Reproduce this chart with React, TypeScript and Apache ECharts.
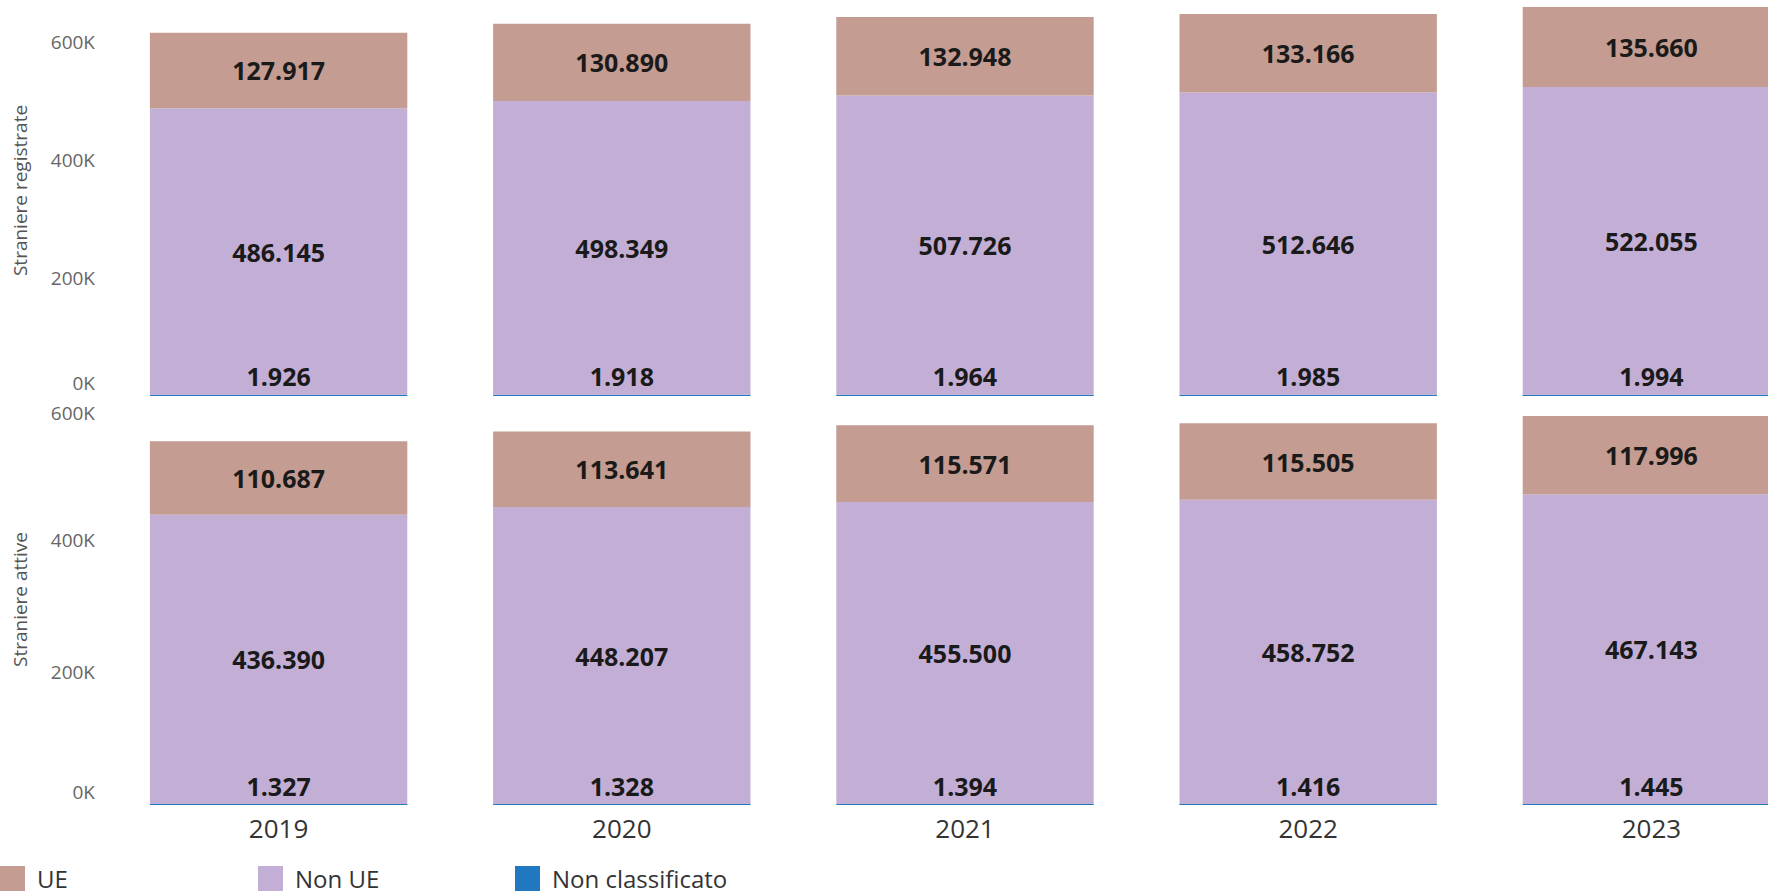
import React, { useEffect, useRef } from "react";
import * as echarts from "echarts";

const years = ["2019", "2020", "2021", "2022", "2023"];
const legendNames = ["UE", "Non UE", "Non classificato"];
const regUE = [127917, 130890, 132948, 133166, 135660];
const regNonUE = [486145, 498349, 507726, 512646, 522055];
const regNC = [1926, 1918, 1964, 1985, 1994];
const attUE = [110687, 113641, 115571, 115505, 117996];
const attNonUE = [436390, 448207, 455500, 458752, 467143];
const attNC = [1327, 1328, 1394, 1416, 1445];
const panelTitles = ["Straniere registrate", "Straniere attive"];

const COLORS: Record<string, string> = {
  UE: "#C49C91",
  "Non UE": "#C3AFD6",
  "Non classificato": "#1F78C0",
};

const FONT = "'Open Sans', 'Noto Sans', sans-serif";

const itFmt = (v: number) => String(v).replace(/\B(?=(\d{3})+(?!\d))/g, ".");

export default function App() {
  const ref = useRef<HTMLDivElement>(null);
  useEffect(() => {
    if (!ref.current) return;
    const chart = echarts.init(ref.current, null, { renderer: "svg" });
    const regMax = Math.max(...years.map((_, i) => regUE[i] + regNonUE[i] + regNC[i]));
    const attMax = Math.max(...years.map((_, i) => attUE[i] + attNonUE[i] + attNC[i]));
    const gridH = 389;
    const grids = [
      { left: 107, width: 1716, top: 7, height: gridH, outerBoundsMode: "none", containLabel: false },
      { left: 107, width: 1716, top: 416, height: gridH, outerBoundsMode: "none", containLabel: false },
    ];
    const yLabel = (showMax: boolean) => ({
      show: true,
      showMaxLabel: showMax,
      color: "#666",
      fontSize: 19,
      fontFamily: FONT,
      margin: 12,
      formatter: (v: number) => {
        if (v === 0) return "{lo|0K}";
        if (v % 200000 !== 0) return "{hi|" + Math.round(v / 200000) * 200 + "K}";
        return v / 1000 + "K";
      },
      rich: {
        lo: { fontSize: 19, color: "#666", fontFamily: FONT, padding: [0, 0, 26, 0] },
        hi: { fontSize: 19, color: "#666", fontFamily: FONT, padding: [0, 0, 6, 0] },
      },
    });
    const yAxes = [regMax, attMax].map((mx, i) => ({
      type: "value",
      gridIndex: i,
      min: 0,
      max: mx,
      interval: 200000,
      splitLine: { show: false },
      axisLine: { show: false },
      axisTick: { show: false },
      axisLabel: yLabel(i === 1),
      name: panelTitles[i],
      nameLocation: "middle",
      nameRotate: 90,
      nameGap: 78,
      nameTextStyle: { color: "#555", fontSize: 19, fontFamily: FONT, padding: [0, 0, 0, 22] },
    }));
    const xAxes = [0, 1].map((i) => ({
      type: "category",
      gridIndex: i,
      data: years,
      axisLine: { show: false },
      axisTick: { show: false },
      axisLabel: {
        show: i === 1,
        color: "#333",
        fontSize: 26,
        fontFamily: FONT,
        margin: 10,
      },
    }));
    const labelBase = {
      show: true,
      color: "#1a1a1a",
      fontWeight: "bold",
      fontSize: 25,
      fontFamily: FONT,
      formatter: (p: any) => itFmt(p.value),
    };
    const panels = [
      { nc: regNC, non: regNonUE, ue: regUE },
      { nc: attNC, non: attNonUE, ue: attUE },
    ];
    const series: any[] = [];
    panels.forEach((pd, i) => {
      series.push({
        name: "Non classificato",
        type: "bar",
        stack: "s" + i,
        xAxisIndex: i,
        yAxisIndex: i,
        data: pd.nc,
        barCategoryGap: "25%",
        itemStyle: { color: COLORS["Non classificato"] },
        label: { ...labelBase, position: "top", distance: 6 },
      });
      series.push({
        name: "Non UE",
        type: "bar",
        stack: "s" + i,
        xAxisIndex: i,
        yAxisIndex: i,
        data: pd.non,
        barCategoryGap: "25%",
        itemStyle: { color: COLORS["Non UE"] },
        label: { ...labelBase, position: "inside" },
      });
      series.push({
        name: "UE",
        type: "bar",
        stack: "s" + i,
        xAxisIndex: i,
        yAxisIndex: i,
        data: pd.ue,
        barCategoryGap: "25%",
        itemStyle: { color: COLORS["UE"] },
        label: { ...labelBase, position: "inside" },
      });
    });
    const legendLefts = [0, 258, 515];
    const legends = legendNames.map((n, k) => ({
      data: [n],
      left: legendLefts[k],
      top: 866,
      padding: 0,
      icon: "rect",
      itemWidth: 25,
      itemHeight: 25,
      textStyle: {
        color: "#333",
        fontSize: 24,
        lineHeight: 24,
        fontFamily: FONT,
        padding: [0, 0, 0, 7],
      },
    }));
    chart.setOption({
      animation: false,
      backgroundColor: "#ffffff",
      grid: grids,
      xAxis: xAxes,
      yAxis: yAxes,
      legend: legends,
      series,
    });
    return () => chart.dispose();
  }, []);
  return (
    <div
      ref={ref}
      style={{ position: "absolute", left: 0, top: 0, width: 1768, height: 896 }}
    />
  );
}
